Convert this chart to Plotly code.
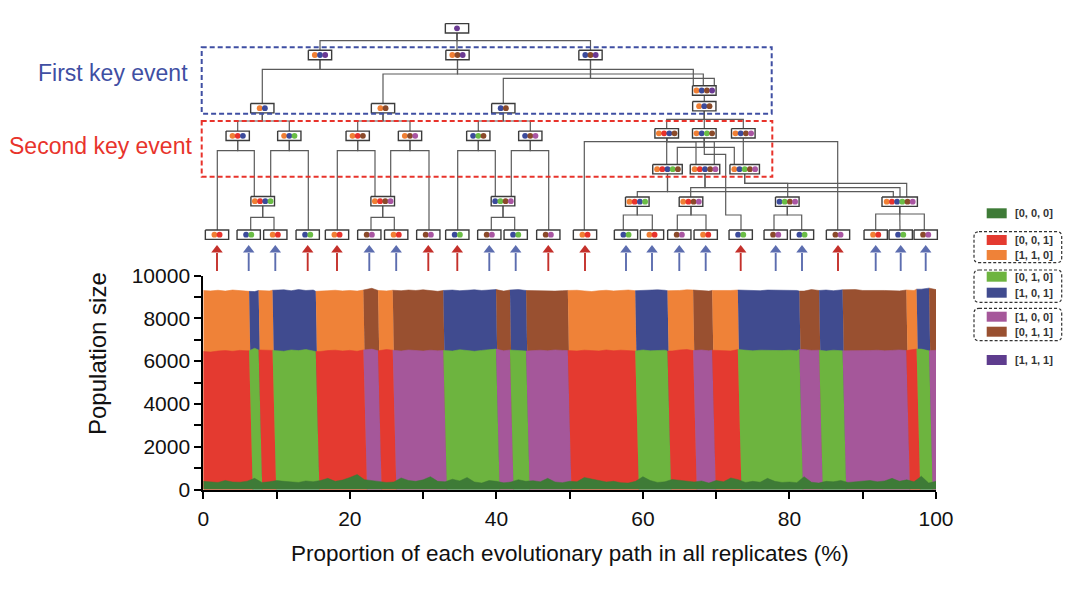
import plotly.graph_objects as go

FONT = "Liberation Sans, Arial, sans-serif"

# ---------------- chart data ----------------
# grid of replicate proportions (%) at which the population sizes were read
x_grid = list(range(0, 101))

# top of the [0, 0, 0] layer
base_top = [
    380, 360, 330, 420, 350, 340, 390, 520, 330, 360,
    420, 380, 350, 330, 400, 360, 420, 520, 380, 440,
    560, 700, 460, 420, 380, 330, 350, 540, 420, 380,
    450, 600, 380, 360, 480, 400, 560, 350, 300, 420,
    380, 310, 350, 460, 380, 410, 360, 520, 350, 320,
    380, 360, 560, 480, 400, 350, 380, 320, 300, 380,
    600, 420, 330, 360, 470, 420, 380, 350, 400, 300,
    420, 360, 540, 460, 330, 380, 340, 520, 380, 330,
    350, 320, 600, 340, 300, 380, 360, 420, 330, 350,
    380, 420, 360, 400, 520, 380, 450, 360, 620, 300,
    380]

# top of the second (middle) layer
mid_top = [
    6450, 6420, 6470, 6490, 6460, 6500, 6480, 6600, 6520, 6480,
    6500, 6460, 6520, 6490, 6540, 6480, 6450, 6490, 6510, 6470,
    6500, 6460, 6520, 6560, 6480, 6540, 6510, 6470, 6520, 6490,
    6470, 6510, 6480, 6500, 6470, 6530, 6480, 6460, 6500, 6520,
    6560, 6480, 6520, 6500, 6470, 6490, 6510, 6480, 6520, 6500,
    6490, 6470, 6510, 6500, 6470, 6520, 6480, 6510, 6490, 6470,
    6520, 6480, 6500, 6510, 6470, 6520, 6540, 6490, 6520, 6480,
    6510, 6500, 6470, 6540, 6520, 6480, 6510, 6500, 6520, 6490,
    6510, 6480, 6540, 6500, 6510, 6470, 6510, 6490, 6480, 6500,
    6470, 6490, 6510, 6480, 6500, 6520, 6490, 6530, 6560, 6480,
    6510]

# total population (top of the third layer)
top_top = [
    9300, 9280, 9310, 9270, 9320, 9290, 9260, 9250, 9300, 9280,
    9310, 9330, 9290, 9340, 9300, 9320, 9260, 9290, 9310, 9280,
    9300, 9270, 9320, 9400, 9300, 9280, 9310, 9290, 9320, 9300,
    9330, 9300, 9260, 9300, 9320, 9290, 9310, 9330, 9300, 9320,
    9340, 9270, 9320, 9340, 9300, 9290, 9280, 9300, 9270, 9290,
    9300, 9310, 9280, 9250, 9290, 9310, 9280, 9300, 9320, 9290,
    9310, 9340, 9330, 9310, 9290, 9300, 9330, 9320, 9290, 9270,
    9300, 9280, 9300, 9320, 9310, 9300, 9290, 9320, 9310, 9330,
    9320, 9300, 9270, 9340, 9300, 9320, 9290, 9310, 9330, 9340,
    9300, 9310, 9320, 9300, 9290, 9280, 9320, 9300, 9360, 9410,
    9340]

# evolutionary paths: boundaries (%) and path type
seg_edges = [0, 6.5, 7.8, 9.7, 15.6, 22.1, 24.1, 26.1, 33.0, 40.2, 42.1, 44.3,
             50.0, 59.2, 63.6, 67.1, 69.7, 73.2, 81.6, 84.3, 87.5, 96.2, 97.6,
             99.3, 100]
seg_types = ['A', 'B', 'A', 'B', 'A', 'C', 'A', 'C', 'B', 'C', 'B', 'C',
             'A', 'B', 'A', 'C', 'A', 'B', 'C', 'B', 'C', 'A', 'B', 'C']

x_ticks = [0, 20, 40, 60, 80, 100]
y_ticks = [0, 2000, 4000, 6000, 8000, 10000]

legend_labels = ['[0, 0, 0]', '[0, 0, 1]', '[1, 1, 0]', '[0, 1, 0]',
                 '[1, 0, 1]', '[1, 0, 0]', '[0, 1, 1]', '[1, 1, 1]']

# ---------------- styles ----------------
geno_color = {
    '[0, 0, 0]': '#3E7B37', '[0, 0, 1]': '#E43A30', '[1, 1, 0]': '#EF8238',
    '[0, 1, 0]': '#6DB43F', '[1, 0, 1]': '#404B8F', '[1, 0, 0]': '#A5579A',
    '[0, 1, 1]': '#995030', '[1, 1, 1]': '#5E3C8E'}
type_layers = {'A': ('[0, 0, 1]', '[1, 1, 0]'),
               'B': ('[0, 1, 0]', '[1, 0, 1]'),
               'C': ('[1, 0, 0]', '[0, 1, 1]')}
dot_color = {'O': '#F07F34', 'R': '#E8322C', 'B': '#3B4A9B', 'G': '#6ABD45',
             'N': '#8A4A2A', 'P': '#A955A2', 'V': '#6B3A93'}
leaf_dots = {'A': 'OR', 'B': 'BG', 'C': 'NP'}

# page geometry: the figure sits 8 px inside the browser page (body margin)
OFF = 8
W, H = 1080 - 2 * OFF, 600 - 2 * OFF

fig = go.Figure()

# ---------------- stacked area ----------------
zeros = [0] * len(x_grid)


def val(arr, x):
    return arr[min(100, max(0, int(round(x))))]


def slant(e):
    return 0 if e <= 0 or e >= 100 else 0.25


def seg_poly(x0, x1, upper, lower):
    s0, s1 = slant(x0), slant(x1)
    inner = [g for g in x_grid if x0 + 0.3 < g < x1 - 0.3]
    xs = [x0 - s0] + inner + [x1 - s1] + [x1 + s1] + inner[::-1] + [x0 + s0]
    ys = ([val(upper, x0)] + [upper[g] for g in inner] + [val(upper, x1)] +
          [val(lower, x1)] + [lower[g] for g in inner[::-1]] + [val(lower, x0)])
    return xs, ys


# draw the upper layer first (down to 0), then the middle layer over it,
# then the [0, 0, 0] layer, so that adjacent layers never leave gaps
for layer in (1, 0):
    upper = top_top if layer == 1 else mid_top
    for i, t in enumerate(seg_types):
        x0, x1 = seg_edges[i], seg_edges[i + 1]
        g = type_layers[t][layer]
        xs, ys = seg_poly(x0, x1, upper, zeros)
        fig.add_trace(go.Scatter(x=xs, y=ys, mode='lines', fill='toself',
                                 fillcolor=geno_color[g],
                                 line=dict(color=geno_color[g], width=0.6),
                                 hoverinfo='skip', xaxis='x', yaxis='y'))

fig.add_trace(go.Scatter(x=x_grid, y=base_top, mode='lines', fill='tozeroy',
                         fillcolor=geno_color['[0, 0, 0]'],
                         line=dict(color=geno_color['[0, 0, 0]'], width=0.5),
                         hoverinfo='skip', xaxis='x', yaxis='y'))

# ---------------- tree diagram (pixel layout) ----------------
nodes = {
    'root': (457, 28.3, 'V'),
    'n1': (320, 55, 'OBV'), 'n2': (457.5, 55, 'ONV'), 'n3': (590.5, 55, 'BNV'),
    'n4': (262.3, 108.2, 'OB'), 'n5': (383, 108.2, 'ON'), 'n6': (503.3, 108.2, 'BN'),
    'n7': (704.3, 90.5, 'OBNV'), 'n8': (704.3, 106.2, 'OBN'),
    'n9': (237.7, 135.8, 'ORB'), 'n10': (289.3, 135.8, 'OBG'),
    'n11': (357.7, 135.8, 'ORN'), 'n12': (410, 135.8, 'ONP'),
    'n13': (478.3, 135.8, 'BGN'), 'n14': (530.3, 135.8, 'BNP'),
    'n15': (666.7, 133.3, 'ORBN'), 'n16': (704.3, 133.3, 'OBGN'),
    'n17': (743.3, 133.3, 'OBNP'),
    'n18': (262.7, 201.2, 'ORBG'), 'n19': (382.7, 201.2, 'ORNP'),
    'n20': (503, 201.2, 'BGNP'),
    'n21': (667.5, 169.2, 'ORBGN'), 'n22': (705, 169.2, 'ORBNP'),
    'n23': (744.7, 169.2, 'OBGNP'),
    'n24': (637.3, 201.7, 'ORBG'), 'n25': (691, 201.7, 'ORNP'),
    'n26': (787.3, 201.7, 'BGNP'), 'n27': (899.7, 201.7, 'ORBGNP'),
}
leaf_x = [217, 248.7, 275.3, 307.7, 337, 369.3, 396.2, 428.3, 457.3, 489.3,
          515.7, 548.3, 585, 626, 652, 679.3, 705.7, 740.7, 775.7, 802, 838,
          875.7, 900.7, 925.7]
LEAF_Y = 234.7
for k, lx in enumerate(leaf_x):
    nodes['L%d' % (k + 1)] = (lx, LEAF_Y, leaf_dots[seg_types[k]])

HH = 4.7
edges = [
    ('root', 'n1', 40.7, None), ('root', 'n3', 40.7, None), ('root', 'n2', None, None),
    ('n1', 'n4', 69.3, None), ('n1', 'n7', 69.3, 693.3),
    ('n2', 'n5', 74, None), ('n2', 'n7', 74, 703.3),
    ('n3', 'n6', 78.3, None), ('n3', 'n7', 78.3, 714.3),
    ('n7', 'n8', None, None),
    ('n4', 'n9', 121, None), ('n4', 'n10', 121, None),
    ('n5', 'n11', 121, None), ('n5', 'n12', 121, None),
    ('n6', 'n13', 121, None), ('n6', 'n14', 121, None),
    ('n8', 'n15', 119.3, None), ('n8', 'n17', 119.3, None), ('n8', 'n16', None, None),
    ('n9', 'L1', 150.7, 217.3), ('n9', 'n18', 150.7, 254.3),
    ('n10', 'n18', 150.7, 270.7), ('n10', 'L4', 150.7, 308.3),
    ('n11', 'L5', 150.7, 337.3), ('n11', 'n19', 150.7, 375),
    ('n12', 'n19', 150.7, 390.7), ('n12', 'L8', 150.7, 429),
    ('n13', 'L9', 150.7, 457.7), ('n13', 'n20', 150.7, 495.3),
    ('n14', 'n20', 150.7, 511.3), ('n14', 'L12', 150.7, 548.7),
    ('n18', 'L2', 217.3, 250.7), ('n18', 'L3', 217.3, 274),
    ('n19', 'L6', 217.3, 371), ('n19', 'L7', 217.3, 394.3),
    ('n20', 'L10', 217.3, 491.3), ('n20', 'L11', 217.3, 514.7),
    ('n15', 'n21', None, None),
    ('n15', 'L13', 141.7, 584.3), ('n15', 'n22', 141.7, 696),
    ('n15', 'n22', 141.7, 714.3), ('n15', 'L21', 141.7, 837.7),
    ('n16', 'n21', 147.3, 677.3), ('n16', 'n23', 147.3, 734.3),
    ('n17', 'n23', None, None),
    ('n21', 'n24', 191.7, 637.3), ('n21', 'n27', 191.7, 893.3),
    ('n22', 'n25', 187.7, 690.7), ('n22', 'n27', 187.7, 900),
    ('n23', 'n26', 183.3, 787.7), ('n23', 'n27', 183.3, 906.7),
    ('n24', 'L14', 215, 623.3), ('n24', 'L15', 215, 652.3),
    ('n25', 'L16', 215, 677.3), ('n25', 'L17', 215, 706),
    ('n26', 'L19', 215, 774), ('n26', 'L20', 215, 801.7),
    ('n27', 'L22', 214, 875.7), ('n27', 'L23', 214, 900), ('n27', 'L24', 214, 924.3),
]
lx_, ly_ = [], []
for p, c, bus, cx in edges:
    px, py, _ = nodes[p]
    qx, qy, _ = nodes[c]
    pb, ct = py + HH, qy - HH
    if bus is None:
        pts = [(px, pb), (px, ct)]
    else:
        cxx = qx if cx is None else cx
        pts = [(px, pb), (px, bus), (cxx, bus), (cxx, ct)]
    for a, b in pts:
        lx_.append(a)
        ly_.append(b)
    lx_.append(None)
    ly_.append(None)
# the winding connector from n16 to L18
for a, b in [(704.3, 138), (704.3, 154.3), (725.7, 154.3), (725.7, 215),
             (741, 215), (741, 230)]:
    lx_.append(a)
    ly_.append(b)
fig.add_trace(go.Scatter(x=lx_, y=ly_, mode='lines',
                         line=dict(color='#5A5A5A', width=1.2),
                         hoverinfo='skip', xaxis='x2', yaxis='y2'))

# boxes
bx, by = [], []
dx, dy, dc = [], [], []
for name, (x, y, cols) in nodes.items():
    n = len(cols)
    w = max(23.3, 5.9 * n)
    for a, b in [(x - w / 2, y - HH), (x + w / 2, y - HH), (x + w / 2, y + HH),
                 (x - w / 2, y + HH), (x - w / 2, y - HH)]:
        bx.append(a)
        by.append(b)
    bx.append(None)
    by.append(None)
    sp = 5.2
    for j, ch in enumerate(cols):
        dx.append(x + (j - (n - 1) / 2) * sp)
        dy.append(y)
        dc.append(dot_color[ch])
fig.add_trace(go.Scatter(x=bx, y=by, mode='lines', fill='toself', fillcolor='white',
                         line=dict(color='#3C3C3C', width=1.4),
                         hoverinfo='skip', xaxis='x2', yaxis='y2'))
fig.add_trace(go.Scatter(x=dx, y=dy, mode='markers',
                         marker=dict(color=dc, size=5.8, line=dict(width=0)),
                         hoverinfo='skip', xaxis='x2', yaxis='y2'))

# arrows under leaves (red for paths above 5 %)
for red in (True, False):
    ax, ay, hx, hy = [], [], [], []
    for k, lx in enumerate(leaf_x):
        width = seg_edges[k + 1] - seg_edges[k]
        if (width >= 5) != red:
            continue
        ax += [lx, lx, None]
        ay += [271, 253, None]
        hx.append(lx)
        hy.append(250)
    col = '#C4302B' if red else '#5C6DAF'
    fig.add_trace(go.Scatter(x=ax, y=ay, mode='lines', line=dict(color=col, width=1.9),
                             hoverinfo='skip', xaxis='x2', yaxis='y2'))
    fig.add_trace(go.Scatter(x=hx, y=hy, mode='markers',
                             marker=dict(symbol='triangle-up', size=10, color=col,
                                         line=dict(width=0)),
                             hoverinfo='skip', xaxis='x2', yaxis='y2'))

shapes = []
# key event frames
shapes.append(dict(type='rect', xref='x2', yref='y2', x0=201.7, y0=47.3, x1=771.7, y1=113.7,
                   line=dict(color='#3F4FA3', width=2, dash='5px,3px')))
shapes.append(dict(type='rect', xref='x2', yref='y2', x0=201.7, y0=121, x1=772.3, y1=176.7,
                   line=dict(color='#E8332B', width=2, dash='5px,3px')))

# legend
leg_y = [213.3, 240, 255, 276.7, 292.7, 316.7, 331.7, 360]
annotations = []
for lab, yy in zip(legend_labels, leg_y):
    shapes.append(dict(type='rect', xref='x2', yref='y2', x0=986.7, x1=1006.7,
                       y0=yy - 5, y1=yy + 5, fillcolor=geno_color[lab],
                       line=dict(width=0)))
    annotations.append(dict(xref='x2', yref='y2', x=1012.5, y=yy, text='<b>%s</b>' % lab,
                            showarrow=False, xanchor='left', yanchor='middle',
                            font=dict(family=FONT, size=11, color='#333333')))


def rounded(x0, y0, x1, y1, r):
    return ('M %f,%f L %f,%f Q %f,%f %f,%f L %f,%f Q %f,%f %f,%f L %f,%f Q %f,%f %f,%f '
            'L %f,%f Q %f,%f %f,%f Z' % (
                x0 + r, y0, x1 - r, y0, x1, y0, x1, y0 + r, x1, y1 - r, x1, y1, x1 - r, y1,
                x0 + r, y1, x0, y1, x0, y1 - r, x0, y0 + r, x0, y0, x0 + r, y0))


for (y0, y1) in [(231.7, 262.7), (270, 302.3), (308.3, 340.7)]:
    shapes.append(dict(type='path', xref='x2', yref='y2', path=rounded(974, y0, 1061.7, y1, 5),
                       line=dict(color='#333333', width=1.2, dash='3px,2px')))

# texts
annotations += [
    dict(xref='x2', yref='y2', x=112.5, y=73, text='First key event', showarrow=False,
         font=dict(family=FONT, size=23, color='#3F4FA3')),
    dict(xref='x2', yref='y2', x=100.5, y=146, text='Second key event', showarrow=False,
         font=dict(family=FONT, size=23, color='#E8332B')),
    dict(xref='x2', yref='y2', x=97, y=354, text='Population size', showarrow=False,
         textangle=-90, font=dict(family=FONT, size=24, color='#111111')),
    dict(xref='x2', yref='y2', x=569.5, y=553,
         text='Proportion of each evolutionary path in all replicates (%)',
         showarrow=False, font=dict(family=FONT, size=22.5, color='#111111')),
]

fig.update_layout(
    width=W, height=H,
    margin=dict(l=0, r=0, t=0, b=0, pad=0, autoexpand=False),
    paper_bgcolor='white', plot_bgcolor='rgba(0,0,0,0)', showlegend=False,
    font=dict(family=FONT, color='#111111'),
    xaxis=dict(domain=[(203.3 - OFF) / W, (936 - OFF) / W], range=[0, 100], anchor='y',
               tickmode='array', tickvals=x_ticks, ticktext=[str(v) for v in x_ticks],
               ticks='outside', ticklen=7, tickwidth=2, tickcolor='black',
               minor=dict(dtick=10, tick0=0, ticks='outside', ticklen=7, tickwidth=2,
                          tickcolor='black'),
               showline=True, linecolor='black', linewidth=2, showgrid=False,
               zeroline=False, tickfont=dict(family=FONT, size=21, color='#111111'),
               ticklabelstandoff=2, fixedrange=True, automargin=False),
    yaxis=dict(domain=[1 - (489.5 - OFF) / H, 1 - (275.5 - OFF) / H], range=[0, 10000],
               anchor='x',
               tickmode='array', tickvals=y_ticks, ticktext=[str(v) for v in y_ticks],
               ticks='outside', ticklen=7, tickwidth=2, tickcolor='black',
               minor=dict(dtick=1000, tick0=0, ticks='outside', ticklen=7, tickwidth=2,
                          tickcolor='black'),
               showline=True, linecolor='black', linewidth=2, showgrid=False,
               zeroline=False, tickfont=dict(family=FONT, size=21, color='#111111'),
               fixedrange=True, automargin=False),
    xaxis2=dict(domain=[0, 1], range=[OFF, OFF + W], anchor='y2', visible=False,
                fixedrange=True, automargin=False),
    yaxis2=dict(domain=[0, 1], range=[OFF + H, OFF], anchor='x2', visible=False,
                fixedrange=True, automargin=False),
    shapes=shapes, annotations=annotations,
)

fig.write_html("out.html", config={'displayModeBar': False})
